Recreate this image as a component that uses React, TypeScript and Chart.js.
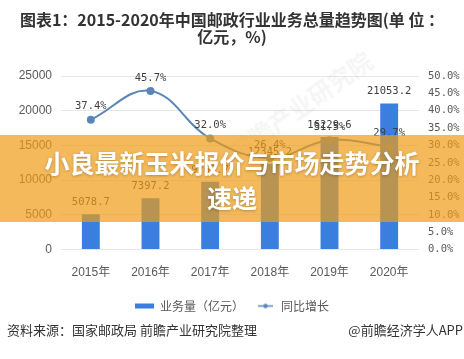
import React, { useEffect, useRef } from "react";
import { Chart, registerables } from "chart.js";

Chart.register(...registerables);

const categories = ["2015年", "2016年", "2017年", "2018年", "2019年", "2020年"];
const volumeValues = [5078.7, 7397.2, 9763.7, 12345.2, 16229.6, 21053.2];
const growthValues = [37.4, 45.7, 32.0, 26.4, 31.5, 29.7];
const seriesNames = ["业务量（亿元）", "同比增长"];
const leftAxis = { min: 0, max: 25000, step: 5000 };
const rightAxis = { min: 0, max: 50, step: 5 };

const BAR_COLOR = "#3a7fe0";
const LINE_COLOR = "#5b86b6";
const TICK_COLOR = "#595959";
const SANS = '"Liberation Sans", "Noto Sans CJK SC", sans-serif';
const MONO = '"DejaVu Sans Mono", "Noto Sans CJK SC", monospace';
const CJK = '"Noto Sans CJK SC", sans-serif';

function makeIcon(kind: "bar" | "line"): HTMLCanvasElement {
  const c = document.createElement("canvas");
  c.width = 19;
  c.height = 7;
  const g = c.getContext("2d")!;
  if (kind === "bar") {
    g.fillStyle = BAR_COLOR;
    g.fillRect(0, 1, 19, 5);
  } else {
    g.strokeStyle = LINE_COLOR;
    g.lineWidth = 1.5;
    g.beginPath();
    g.moveTo(2, 3.5);
    g.lineTo(17, 3.5);
    g.stroke();
    g.fillStyle = LINE_COLOR;
    g.beginPath();
    g.arc(9.5, 3.5, 2.2, 0, Math.PI * 2);
    g.fill();
  }
  return c;
}

const valueLabels = {
  id: "valueLabels",
  afterDatasetsDraw(chart: any) {
    const ctx = chart.ctx;
    ctx.save();
    ctx.font = `10.5px ${MONO}`;
    ctx.fillStyle = "#404040";
    ctx.textAlign = "center";
    ctx.textBaseline = "middle";
    chart.data.datasets.forEach((ds: any, i: number) => {
      const meta = chart.getDatasetMeta(i);
      meta.data.forEach((el: any, j: number) => {
        const v = ds.data[j] as number;
        const text = i === 0 ? v.toFixed(1) : v.toFixed(1) + "%";
        ctx.fillText(text, el.x, el.y - (i === 0 ? 12 : 13));
      });
    });
    ctx.restore();
  },
};

export default function App() {
  const ref = useRef<HTMLCanvasElement>(null);

  useEffect(() => {
    const canvas = ref.current!;
    const icons = [makeIcon("bar"), makeIcon("line")];
    const chart = new Chart(canvas, {
      type: "bar",
      data: {
        labels: categories,
        datasets: [
          {
            type: "bar",
            label: seriesNames[0],
            data: volumeValues,
            backgroundColor: BAR_COLOR,
            yAxisID: "y",
            barPercentage: 0.3,
            categoryPercentage: 1,
            order: 1,
          } as any,
          {
            type: "line",
            label: seriesNames[1],
            data: growthValues,
            borderColor: LINE_COLOR,
            backgroundColor: LINE_COLOR,
            borderWidth: 2,
            pointRadius: 3,
            pointBackgroundColor: LINE_COLOR,
            pointBorderColor: LINE_COLOR,
            tension: 0.4,
            yAxisID: "y1",
            order: 0,
          } as any,
        ],
      },
      options: {
        responsive: false,
        animation: false,
        devicePixelRatio: 1,
        events: [],
        layout: { padding: { top: 76, left: 0, right: 0, bottom: 37 } },
        plugins: {
          tooltip: { enabled: false },
          legend: {
            position: "bottom",
            labels: {
              usePointStyle: true,
              pointStyleWidth: 19,
              boxHeight: 7,
              padding: 12,
              color: TICK_COLOR,
              font: { family: CJK, size: 12 },
              generateLabels: () =>
                seriesNames.map((name, i) => ({
                  text: name,
                  pointStyle: icons[i],
                  fillStyle: i === 0 ? BAR_COLOR : LINE_COLOR,
                  strokeStyle: i === 0 ? BAR_COLOR : LINE_COLOR,
                  lineWidth: 0,
                  hidden: false,
                  datasetIndex: i,
                  fontColor: TICK_COLOR,
                })) as any,
            },
          },
        },
        scales: {
          x: {
            grid: { display: false },
            border: { display: false },
            ticks: { color: TICK_COLOR, font: { family: SANS, size: 12 }, padding: 8 },
          },
          y: {
            position: "left",
            min: leftAxis.min,
            max: leftAxis.max,
            ticks: {
              stepSize: leftAxis.step,
              color: TICK_COLOR,
              font: { family: SANS, size: 12 },
              padding: 9,
              callback: (v: any) => String(v),
            },
            grid: { color: "#e6e6e6", drawTicks: false },
            border: { display: false },
            afterFit: (s: any) => {
              s.width = 61;
            },
          },
          y1: {
            position: "right",
            min: rightAxis.min,
            max: rightAxis.max,
            ticks: {
              stepSize: rightAxis.step,
              color: TICK_COLOR,
              font: { family: MONO, size: 10.5 },
              padding: 9,
              callback: (v: any) => Number(v).toFixed(1) + "%",
            },
            grid: { display: false, drawTicks: false },
            border: { display: false },
            afterFit: (s: any) => {
              s.width = 45;
            },
          },
        },
      } as any,
      plugins: [valueLabels],
    });
    return () => chart.destroy();
  }, []);

  return (
    <div
      style={{
        position: "fixed",
        left: 0,
        top: 0,
        width: 464,
        height: 359,
        background: "#fff",
        overflow: "hidden",
      }}
    >
      <canvas ref={ref} width={464} height={359} style={{ position: "absolute", left: 0, top: 0, width: 464, height: 359 }} />
      <div
        style={{
          position: "absolute",
          left: 0,
          top: 11,
          width: 464,
          textAlign: "center",
          fontFamily: CJK,
          fontWeight: 700,
          fontSize: 16,
          lineHeight: "17px",
          color: "#333",
          whiteSpace: "nowrap",
        }}
      >
        <div>图表1：2015-2020年中国邮政行业业务总量趋势图(单 位 ：</div>
        <div>亿元，%)</div>
      </div>
      <div
        style={{
          position: "absolute",
          left: 300,
          top: 105,
          transform: "translate(-50%, -50%) rotate(-35deg)",
          fontFamily: CJK,
          fontWeight: 700,
          fontSize: 24,
          color: "rgba(170,170,170,0.12)",
          whiteSpace: "nowrap",
        }}
      >
        前瞻产业研究院
      </div>
      <div
        style={{
          position: "absolute",
          left: 0,
          top: 135,
          width: 464,
          height: 87,
          background: "rgba(238,155,20,0.7)",
          textAlign: "center",
          fontFamily: CJK,
          fontWeight: 700,
          fontSize: 25,
          lineHeight: "35px",
          color: "#fff",
          textShadow: "0 1px 3px rgba(0,0,0,0.25)",
          boxSizing: "border-box",
          paddingTop: 10,
          whiteSpace: "nowrap",
        }}
      >
        <div>小良最新玉米报价与市场走势分析</div>
        <div>速递</div>
      </div>
      <div
        style={{
          position: "absolute",
          left: 7,
          top: 321,
          fontFamily: CJK,
          fontSize: 13,
          lineHeight: "18px",
          color: "#333",
          whiteSpace: "nowrap",
        }}
      >
        资料来源：国家邮政局 前瞻产业研究院整理
      </div>
      <div
        style={{
          position: "absolute",
          right: 1,
          top: 321,
          fontFamily: CJK,
          fontSize: 13,
          lineHeight: "18px",
          color: "#333",
          whiteSpace: "nowrap",
        }}
      >
        @前瞻经济学人APP
      </div>
    </div>
  );
}
